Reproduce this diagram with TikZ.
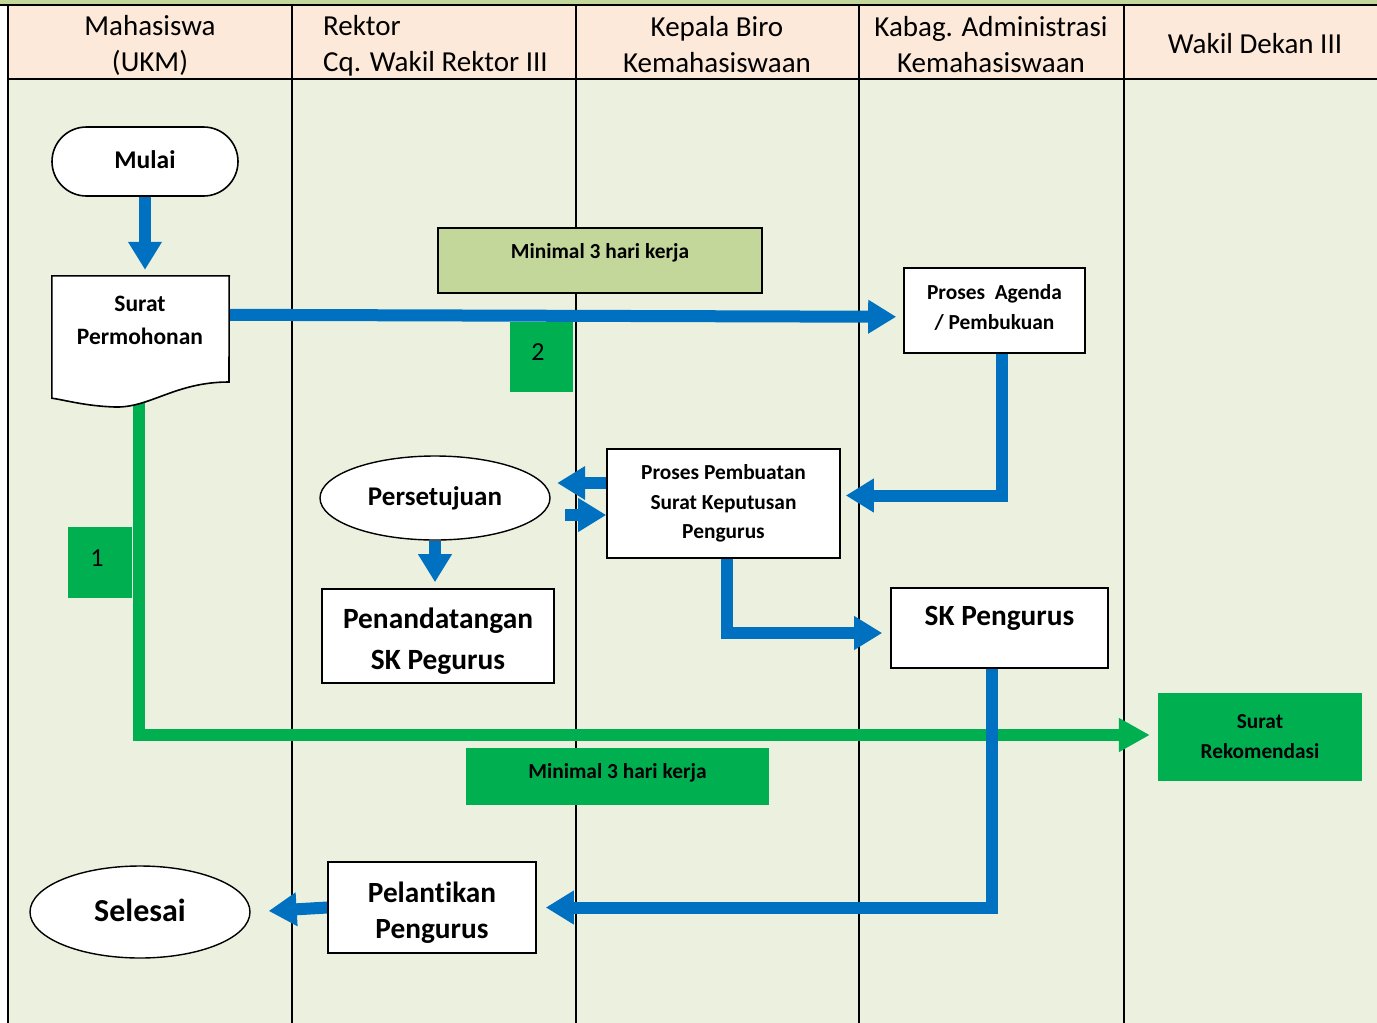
\documentclass[tikz,border=0pt]{standalone}
\usepackage{fontspec}
\setmainfont{Carlito}[Ligatures=NoCommon]
\usetikzlibrary{arrows.meta,calc,shapes.geometric}
\pgfdeclarelayer{lanes}
\pgfdeclarelayer{conn}
\pgfsetlayers{lanes,conn,main}
\definecolor{bodyc}{HTML}{EBF1DE}
\definecolor{headc}{HTML}{FDE9D9}
\definecolor{olivec}{HTML}{C4D79B}
\definecolor{bluec}{HTML}{0070C0}
\definecolor{greenc}{HTML}{00B050}
\newcommand{\fs}[2]{\fontsize{#1}{#2}\selectfont}
\begin{document}
\begin{tikzpicture}[x=1pt,y=-1pt,
  lane/.style={draw=black,line width=2pt},
  hdr/.style={align=center,inner sep=0pt,font=\fs{29}{36}},
  box/.style={draw=black,line width=1.6pt,fill=white,align=center,inner sep=0pt,font=\bfseries},
  txt/.style={align=center,inner sep=0pt},
  gbox/.style={fill=greenc,align=center,inner sep=0pt},
  oval/.style={ellipse,draw=black,line width=1.4pt,fill=white,inner sep=0pt,font=\bfseries},
  barr/.style={draw=bluec,line width=12pt,line join=miter,-{Triangle[length=28pt,width=32pt]}},
  garr/.style={draw=greenc,line width=12pt,line join=miter,-{Triangle[length=31pt,width=32pt]}}]
\useasboundingbox (0,0) rectangle (1377,1023);
\begin{pgfonlayer}{lanes}
\fill[white] (0,0) rectangle (1377,1023);
\fill[olivec] (0,0) rectangle (1377,5);
\fill[headc] (8,5) rectangle (1377,79);
\fill[bodyc] (8,79) rectangle (1377,1023);
\draw[lane] (0,5) -- (1377,5);
\draw[lane] (8,79) -- (1377,79);
\foreach \x in {8,292,576,859,1124} \draw[lane] (\x,5) -- (\x,1023);
\end{pgfonlayer}
% header
\node[hdr] (h1) at (150,45.5) {Mahasiswa\\(UKM)};
\node[hdr,align=left,anchor=west] (h2) at (323,46) {Rektor\\Cq. Wakil Rektor III};
\node[hdr] (h3) at (717,44.5) {Kepala Biro\\Kemahasiswaan};
\node[hdr] (h4) at (991,44.5) {Kabag. Administrasi\\Kemahasiswaan};
\node[hdr] (h5) at (1255,44) {Wakil Dekan III};
% nodes
\node[box,rounded corners=34.5pt,minimum width=186pt,minimum height=69pt,font=\bfseries\fs{25.5}{30}] (mulai) at (145,161.5) {\raisebox{1.5pt}[\height][\depth]{Mulai}};
\node[minimum width=177pt,minimum height=122pt,inner sep=0pt] (surat) at (140.5,337) {};
\draw[black,line width=1.6pt,fill=white] (surat.north west) -- (surat.north east) -- (229,382)
  .. controls (175,382) and (150,408) .. (115,407) .. controls (85,406) and (65,400) .. (surat.south west) -- cycle;
\node[txt,font=\bfseries\fs{23.5}{33}] (surattxt) at (140,320) {Surat\\Permohonan};
\node[draw=black,line width=1.6pt,fill=olivec,minimum width=324pt,minimum height=65pt,inner sep=0pt,font=\bfseries\fs{21.4}{24}] (min1) at (600,260.5) {\raisebox{8pt}[\height][\depth]{Minimal 3 hari kerja}};
\node[gbox,minimum width=63pt,minimum height=70pt,font=\fs{26}{28}] (b2) at (541.5,357) {\hspace*{-7pt}\raisebox{5pt}[\height][\depth]{2}};
\node[box,minimum width=181pt,minimum height=85pt] (agenda) at (994.5,310.5) {};
\node[txt,font=\bfseries\fs{21.4}{30}] (agendatxt) at (994.5,307.5) {Proses~~Agenda\\/ Pembukuan};
\node[box,minimum width=233pt,minimum height=109pt,font=\bfseries\fs{21.4}{29.5}] (pembuatan) at (723.5,503.5) {Proses Pembuatan\\Surat Keputusan\\Pengurus};
\node[oval,minimum width=230pt,minimum height=84pt,font=\bfseries\fs{27}{30}] (setuju) at (435,498) {Persetujuan};
\node[box,minimum width=232pt,minimum height=94pt] (tanda) at (438,636) {};
\node[txt,font=\bfseries\fs{29.4}{41}] (tandatxt) at (438,641) {Penandatangan\\SK Pegurus};
\node[box,minimum width=217pt,minimum height=80pt,font=\bfseries\fs{29.3}{32}] (skpeng) at (999.5,628) {\raisebox{10pt}[\height][\depth]{SK Pengurus}};
\node[box,minimum width=208pt,minimum height=91pt] (lantik) at (432,907.5) {};
\node[txt,font=\bfseries\fs{29.3}{36}] (lantiktxt) at (432,912.5) {Pelantikan\\Pengurus};
\node[oval,minimum width=220pt,minimum height=92pt,font=\bfseries\fs{32}{36}] (selesai) at (140,912) {\raisebox{1.5pt}[\height][\depth]{Selesai}};
\node[gbox,minimum width=64pt,minimum height=71pt,font=\fs{26}{28}] (b1) at (100,562.5) {\hspace*{-6pt}\raisebox{4pt}[\height][\depth]{1}};
\node[gbox,minimum width=303pt,minimum height=57pt,font=\bfseries\fs{21.4}{24}] (min2) at (617.5,776.5) {\raisebox{4pt}[\height][\depth]{Minimal 3 hari kerja}};
\node[gbox,minimum width=204pt,minimum height=88pt,font=\bfseries\fs{21.3}{30}] (rekom) at (1260,737) {Surat\\Rekomendasi};
% connectors
\begin{pgfonlayer}{conn}
\draw[garr,shorten >=8pt] ($(surat.south)+(-2,0)$) |- ($(rekom.west)+(0,-2)$);
\draw[barr,shorten >=6pt] (mulai.south) -- (mulai.south |- surat.north);
\coordinate (s1) at ($(surat.north east)+(-2,39)$);
\draw[barr,shorten >=7pt] (s1) -- ($(s1 -| agenda.west)+(0,2)$);
\draw[barr,shorten >=5pt] ($(agenda.south)+(7,0)$) |- ($(pembuatan.east)+(0,-8)$);
\coordinate (p1) at ($(pembuatan.west)+(0,-20.5)$);
\draw[barr] (p1) -- ($(p1)+(-49,0)$);
\coordinate (p2) at ($(pembuatan.west)+(0,11.5)$);
\draw[barr] ($(p2)+(-41,0)$) -- (p2);
\draw[barr,shorten >=6pt] (setuju.south) -- (setuju.south |- tanda.north);
\draw[barr,shorten >=8pt] ($(pembuatan.south)+(3.5,0)$) |- ($(skpeng.west)+(0,5)$);
\draw[barr,shorten >=9pt] ($(skpeng.south)+(-7.5,0)$) |- (lantik.east);
\draw[barr,shorten >=18pt] (lantik.west) -- (selesai.east);
\end{pgfonlayer}
\end{tikzpicture}
\end{document}
